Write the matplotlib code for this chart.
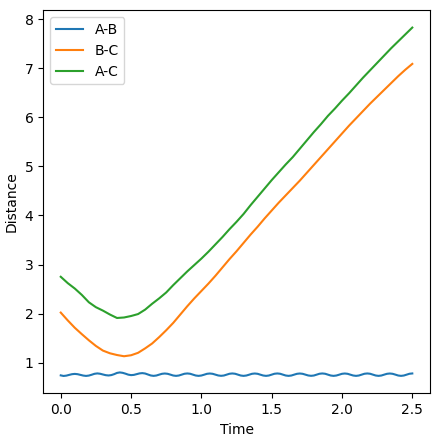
import matplotlib
matplotlib.use("Agg")
import matplotlib.pyplot as plt
import numpy as np

# A-B distance, read every 0.02 time units
t_ab = np.round(np.arange(0, 2.501, 0.02), 2)
ab = [0.740, 0.728, 0.735, 0.750, 0.764, 0.770, 0.764, 0.750,
      0.736, 0.729, 0.736, 0.753, 0.772, 0.780, 0.773, 0.758,
      0.744, 0.738, 0.746, 0.765, 0.790, 0.800, 0.792, 0.775,
      0.755, 0.745, 0.750, 0.765, 0.780, 0.786, 0.778, 0.758,
      0.738, 0.730, 0.737, 0.755, 0.772, 0.778, 0.772, 0.755,
      0.737, 0.730,
      0.737, 0.755, 0.773, 0.779, 0.773, 0.755, 0.737, 0.730,
      0.737, 0.754, 0.772, 0.778, 0.772, 0.755, 0.738, 0.731,
      0.737, 0.755, 0.773, 0.779, 0.773, 0.755, 0.737, 0.730,
      0.737, 0.754, 0.772, 0.778, 0.772, 0.754, 0.737, 0.730,
      0.737, 0.755, 0.773, 0.779, 0.773, 0.755, 0.737, 0.730,
      0.737, 0.755, 0.772, 0.778, 0.772, 0.755, 0.738, 0.731,
      0.737, 0.755, 0.773, 0.779, 0.773, 0.755, 0.737, 0.730,
      0.737, 0.754, 0.772, 0.778, 0.772, 0.754, 0.737, 0.730,
      0.737, 0.755, 0.773, 0.779, 0.773, 0.755, 0.737, 0.730,
      0.737, 0.755, 0.772, 0.778, 0.772, 0.755, 0.737, 0.730,
      0.737, 0.755, 0.773, 0.779]

# B-C and A-C distances, read every 0.05 time units
t = np.round(np.arange(0, 2.501, 0.05), 2)
bc = [2.02, 1.86, 1.71, 1.58, 1.455, 1.34, 1.245, 1.19, 1.155, 1.13,
      1.15, 1.20, 1.29, 1.39, 1.52, 1.66, 1.81, 1.98, 2.15, 2.31,
      2.46, 2.61, 2.77, 2.94, 3.11, 3.27, 3.44, 3.61, 3.77, 3.94,
      4.10, 4.26, 4.41, 4.56, 4.71, 4.87, 5.03, 5.19, 5.35, 5.51,
      5.67, 5.83, 5.98, 6.13, 6.28, 6.42, 6.56, 6.70, 6.84, 6.97,
      7.09]
ac = [2.75, 2.62, 2.51, 2.38, 2.23, 2.13, 2.06, 1.98, 1.91, 1.92,
      1.95, 1.99, 2.08, 2.20, 2.31, 2.43, 2.58, 2.72, 2.86, 2.99,
      3.12, 3.26, 3.41, 3.56, 3.72, 3.87, 4.03, 4.21, 4.38, 4.55,
      4.72, 4.88, 5.04, 5.19, 5.36, 5.53, 5.70, 5.86, 6.03, 6.18,
      6.34, 6.49, 6.65, 6.81, 6.96, 7.11, 7.26, 7.41, 7.55, 7.69,
      7.83]

fig, ax = plt.subplots(figsize=(4.45, 4.42), dpi=100)
fig.subplots_adjust(left=0.097, right=0.966, bottom=0.110, top=0.977)

ax.plot(t_ab, ab, label='A-B')
ax.plot(t, bc, label='B-C')
ax.plot(t, ac, label='A-C')
ax.set_xlabel('Time')
ax.set_ylabel('Distance')
ax.legend(loc='upper left')

fig.savefig('out.png', dpi=100)
